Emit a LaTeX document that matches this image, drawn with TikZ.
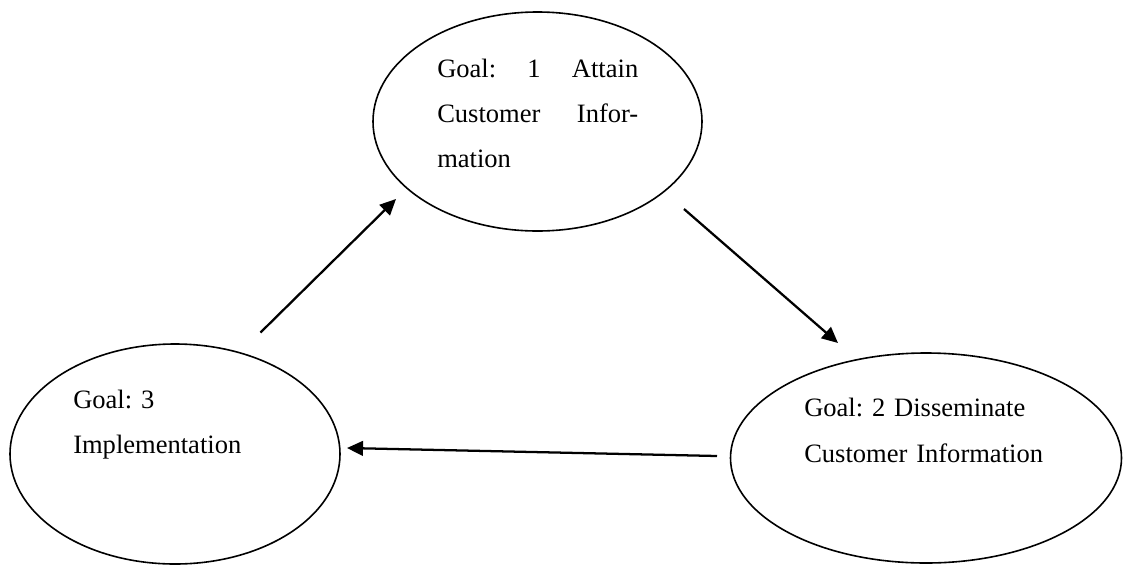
\documentclass[tikz,border=0pt]{standalone}
\usepackage{fontspec}
\setmainfont{Liberation Serif}
\usetikzlibrary{shapes.geometric,arrows.meta}
\frenchspacing
\begin{document}
\begin{tikzpicture}[x=0.75pt,y=-0.75pt,
  goal/.style={ellipse, draw, line width=1.2pt, inner sep=0pt},
  goaltext/.style={anchor=base west, inner sep=0pt, align=left, text width=#1,
    font=\fontsize{19.9pt}{34pt}\selectfont},
  flow/.style={-{Triangle[length=12pt,width=11pt]}, line width=1.7pt}]
\useasboundingbox (0,0) rectangle (1124,565);

% ellipses
\node[goal, minimum width=246.75pt, minimum height=164.25pt] (g1) at (537.5,121.5) {};
\node[goal, minimum width=247.5pt, minimum height=165pt] (g3) at (175,454) {};
\node[goal, minimum width=293.25pt, minimum height=157.5pt] (g2) at (926,458) {};

% texts
\node[goaltext=160pt] (t1) at (437,77.3)
  {\makebox[150.75pt][l]{Goal:\hfill 1\hfill Attain}\\\makebox[150.75pt][l]{Customer\hfill Infor-}\\mation};
\node[goaltext=200pt] (t3) at (73,408) {Goal: 3\\Implementation};
\node[goaltext=220pt] (t2) at (804,416.7) {Goal: 2 Disseminate\\Customer Information};

% arrow end points
\coordinate (a1s) at (260.5,332.5);
\coordinate (a1e) at (396,199);
\coordinate (a2s) at (684,209);
\coordinate (a2e) at (838,343);
\coordinate (a3s) at (717,456);
\coordinate (a3e) at (347,448);

\draw[flow] (a1s) -- (a1e);
\draw[flow] (a2s) -- (a2e);
\draw[flow] (a3s) -- (a3e);
\end{tikzpicture}
\end{document}
